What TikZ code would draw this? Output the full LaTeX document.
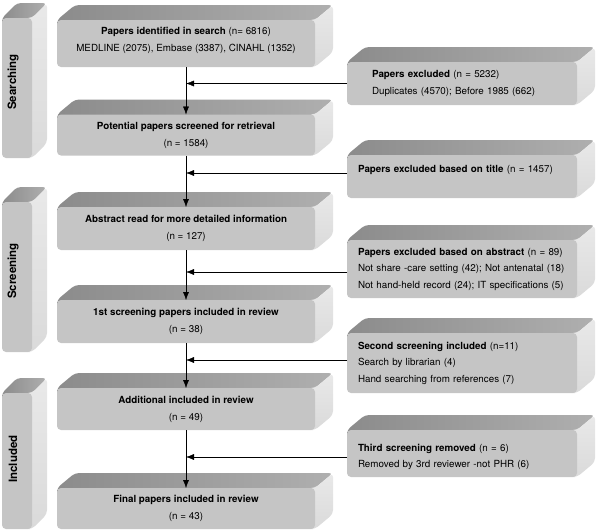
\documentclass[tikz,border=0pt]{standalone}
\usepackage{fontspec}
\setmainfont{TeX Gyre Heros}
\usetikzlibrary{arrows.meta}
\definecolor{facegray}{HTML}{C5C5C5}
\definecolor{topgray}{HTML}{9B9B9B}
\definecolor{sidegray}{HTML}{DADADA}
\pgfdeclarelayer{back}
\pgfsetlayers{back,main}
\begin{document}
\begin{tikzpicture}[x=1pt,y=-1pt,inner sep=0pt,outer sep=0pt,line width=0.9pt,>={Latex[length=8pt,width=6pt]},
mainbox/.style={fill=facegray,rounded corners=4pt,minimum width=258pt,minimum height=43pt,align=center,font=\fontsize{9.8}{17}\selectfont},
sidebox/.style={fill=facegray,rounded corners=4pt,minimum width=230pt,minimum height=43pt,text width=208pt,align=left,font=\fontsize{9.8}{16.5}\selectfont},
stagebar/.style={fill=facegray,rounded corners=4pt,minimum width=30pt},
stagelabel/.style={rotate=90,font=\fontsize{11.5}{12}\selectfont\bfseries}]
\useasboundingbox (0,0) rectangle (600,530);
\draw (17,88) node[stagebar,minimum height=140pt] (searching) {};
\draw (17,277) node[stagebar,minimum height=150pt] (screening) {};
\draw (17,461) node[stagebar,minimum height=136pt] (included) {};
\draw (13,82) node[stagelabel] (searchingtxt) {Searching};
\draw (13,271) node[stagelabel] (screeningtxt) {Screening};
\draw (13,459) node[stagelabel] (includedtxt) {Included};
\draw (186,43.5) node[mainbox,minimum height=47pt,text depth=9pt] (found) {\textbf{Papers identified in search} (n= 6816)\\MEDLINE (2075), Embase (3387), CINAHL (1352)};
\draw (186,135) node[mainbox,minimum height=41pt] (screened) {\textbf{Potential papers screened for retrieval}\\(n = 1584)};
\draw (186,228.5) node[mainbox] (abstract) {\textbf{Abstract read for more detailed information}\\(n = 127)};
\draw (186,321.5) node[mainbox] (first) {\textbf{1st screening papers included in review}\\(n = 38)};
\draw (186,409) node[mainbox,minimum height=42pt] (additional) {\textbf{Additional included in review}\\(n = 49)};
\draw (186,508.5) node[mainbox,minimum height=41pt] (final) {\textbf{Final papers included in review}\\(n = 43)};
\draw (462,83.5) node[sidebox,text width=180pt] (excluded) {\textbf{Papers excluded} (n = 5232)\\Duplicates (4570); Before 1985 (662)};
\draw (462,176.5) node[sidebox,text depth=16pt] (bytitle) {\textbf{Papers excluded based on title} (n = 1457)};
\draw (462,269) node[sidebox,minimum height=58pt] (byabstract) {\textbf{Papers excluded based on abstract} (n = 89)\\Not share -care setting (42); Not antenatal (18)\\Not hand-held record (24); IT specifications (5)};
\draw (462,363) node[sidebox,minimum height=60pt] (second) {\textbf{Second screening included} (n=11)\\Search by librarian (4)\\Hand searching from references (7)};
\draw (462,453.5) node[sidebox,minimum height=47pt,text depth=12pt] (third) {\textbf{Third screening removed} (n = 6)\\Removed by 3rd reviewer -not PHR (6)};
% extruded top and right faces
\begin{pgfonlayer}{back}
\foreach \b/\dx in {found/18,screened/18,abstract/18,first/18,additional/18,final/18,excluded/18,bytitle/18,byabstract/18,second/18,third/18,searching/15,screening/15,included/15}{
\shade[left color=topgray!90!black,right color=topgray!80!white,rounded corners=4pt] ([yshift=-6pt]\b.north west) -- (\b.north west) -- ++(\dx,-15) -- ([shift={(\dx,-15)}]\b.north east) -- (\b.north east) -- ([yshift=-6pt]\b.north east) -- cycle;
\shade[top color=sidegray!60!white,bottom color=sidegray,rounded corners=4pt] ([xshift=-6pt]\b.north east) -- (\b.north east) -- ++(\dx,-15) -- ([shift={(\dx,-15)}]\b.south east) -- (\b.south east) -- ([xshift=-6pt]\b.south east) -- cycle;
}
\end{pgfonlayer}
\draw[->] (found) -- (screened);
\draw[->] (screened) -- (abstract);
\draw[->] (abstract) -- (first);
\draw[->] (first) -- (additional);
\draw[->] (additional) -- (final);
\draw[->] (excluded.west) -- (excluded.west -| found.south);
\draw[->] ([yshift=3.5pt]bytitle.west) -- ([yshift=3.5pt]bytitle.west -| found.south);
\draw[->] ([yshift=-3pt]byabstract.west) -- ([yshift=-3pt]byabstract.west -| found.south);
\draw[->] ([yshift=3pt]second.west) -- ([yshift=3pt]second.west -| found.south);
\draw[->] ([yshift=-3.5pt]third.west) -- ([yshift=-3.5pt]third.west -| found.south);
\end{tikzpicture}
\end{document}
